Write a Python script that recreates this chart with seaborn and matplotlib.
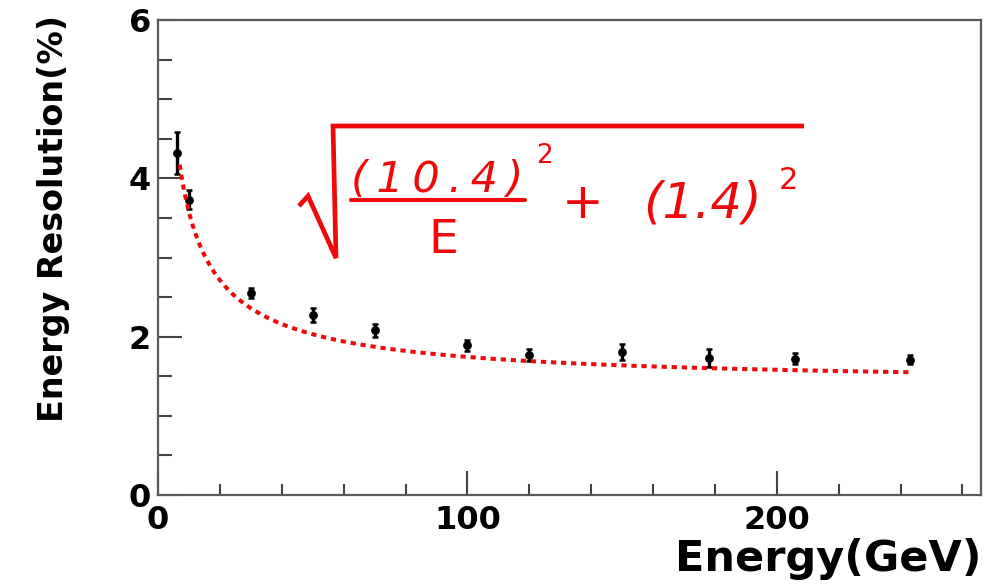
import numpy as np
import matplotlib
matplotlib.use("Agg")
import matplotlib.pyplot as plt
from matplotlib.lines import Line2D
from matplotlib.ticker import MultipleLocator
import seaborn as sns

# Beam energies (GeV), measured resolution (%) and its uncertainty
energy = [6, 10, 30, 50, 70, 100, 120, 150, 178, 206, 243]
resolution = [4.32, 3.73, 2.55, 2.27, 2.08, 1.89, 1.77, 1.81, 1.73, 1.72, 1.71]
resolution_err = [0.27, 0.12, 0.06, 0.09, 0.08, 0.07, 0.08, 0.10, 0.11, 0.07, 0.06]

# Fit parameters: sigma/E = sqrt(a^2/E + b^2)
stochastic_term = 10.4
constant_term = 1.4
fit_range = (7, 243)

x_ticks = [0, 100, 200]
y_ticks = [0, 2, 4, 6]

sns.set_theme(style="white")
plt.rcParams["font.family"] = ["DejaVu Sans"]
plt.rcParams["text.color"] = "black"
plt.rcParams["axes.labelcolor"] = "black"

RED = "#ee0a0a"
FRAME = "#5a5a5a"

W, H = 984, 584
fig = plt.figure(figsize=(W / 100, H / 100), dpi=100)
fig.patch.set_facecolor("white")
ax = fig.add_axes([158 / W, 89 / H, 823 / W, 475 / H])
ax.set_facecolor("white")

# Measurements
ax.errorbar(energy, resolution, yerr=resolution_err, fmt="none",
            ecolor="black", elinewidth=2.4, capsize=2.0, capthick=1.8, zorder=3)
sns.scatterplot(x=energy, y=resolution, color="black", s=40, edgecolor="black",
                linewidth=0, ax=ax, zorder=4)

# Fitted resolution function
e_fit = np.linspace(fit_range[0], fit_range[1], 400)
sigma_fit = np.sqrt(stochastic_term ** 2 / e_fit + constant_term ** 2)
sns.lineplot(x=e_fit, y=sigma_fit, color=RED, lw=2.9,
             linestyle=(0, (1.3, 1.2)), ax=ax, zorder=5)

ax.set_xlim(0, 266)
ax.set_ylim(0, 6)
ax.set_xticks(x_ticks)
ax.set_yticks(y_ticks)
ax.xaxis.set_minor_locator(MultipleLocator(20))
ax.yaxis.set_minor_locator(MultipleLocator(0.5))
ax.tick_params(which="both", direction="in", labelcolor="black", color="#444444",
               width=1.5, bottom=True, left=True, top=False, right=False)
ax.tick_params(which="major", length=17, labelsize=23, pad=5)
ax.tick_params(axis="x", which="major", pad=7)
ax.tick_params(axis="y", which="minor", length=10)
ax.tick_params(axis="x", which="minor", length=8)
for lbl in ax.get_xticklabels() + ax.get_yticklabels():
    lbl.set_fontweight("bold")

for side in ("left", "bottom", "top", "right"):
    ax.spines[side].set_visible(True)
    ax.spines[side].set_color(FRAME)
    ax.spines[side].set_linewidth(1.6)

ax.set_xlabel("Energy(GeV)", loc="right", fontsize=31, fontweight="bold")
ax.xaxis.set_label_coords(1.0, -0.09)
ax.set_ylabel("Energy Resolution(%)", loc="top", fontsize=24, fontweight="bold")
ax.yaxis.set_label_coords(-0.107, 1.01)


# Formula annotation, laid out in figure pixels
def fx(px):
    return px / W


def fy(py):
    return 1 - py / H


def spaced(s):
    return "\u2009".join(s)


radical = Line2D([fx(299), fx(308), fx(336), fx(333), fx(804)],
                 [fy(206), fy(196), fy(258), fy(126), fy(126)],
                 transform=fig.transFigure, color=RED, lw=3.4,
                 solid_joinstyle="miter", solid_capstyle="butt")
fig.add_artist(radical)
fraction_bar = Line2D([fx(351), fx(525)], [fy(200), fy(200)],
                      transform=fig.transFigure, color=RED, lw=3.0)
fig.add_artist(fraction_bar)

txt = dict(color=RED, fontweight="normal", transform=fig.transFigure)
fig.text(fx(437), fy(192), spaced(f"({stochastic_term})"), ha="center",
         va="baseline", fontsize=31, style="italic", **txt)
fig.text(fx(545), fy(163), "2", ha="center", va="baseline", fontsize=19, **txt)
fig.text(fx(443), fy(253), "E", ha="center", va="baseline", fontsize=34, **txt)
fig.text(fx(583), fy(218), "+", ha="center", va="baseline", fontsize=36, **txt)
fig.text(fx(702), fy(217), f"({constant_term})", ha="center", va="baseline",
         fontsize=36, style="italic", **txt)
fig.text(fx(788), fy(189), "2", ha="center", va="baseline", fontsize=22, **txt)

fig.savefig("out.png", dpi=100, facecolor="white")
